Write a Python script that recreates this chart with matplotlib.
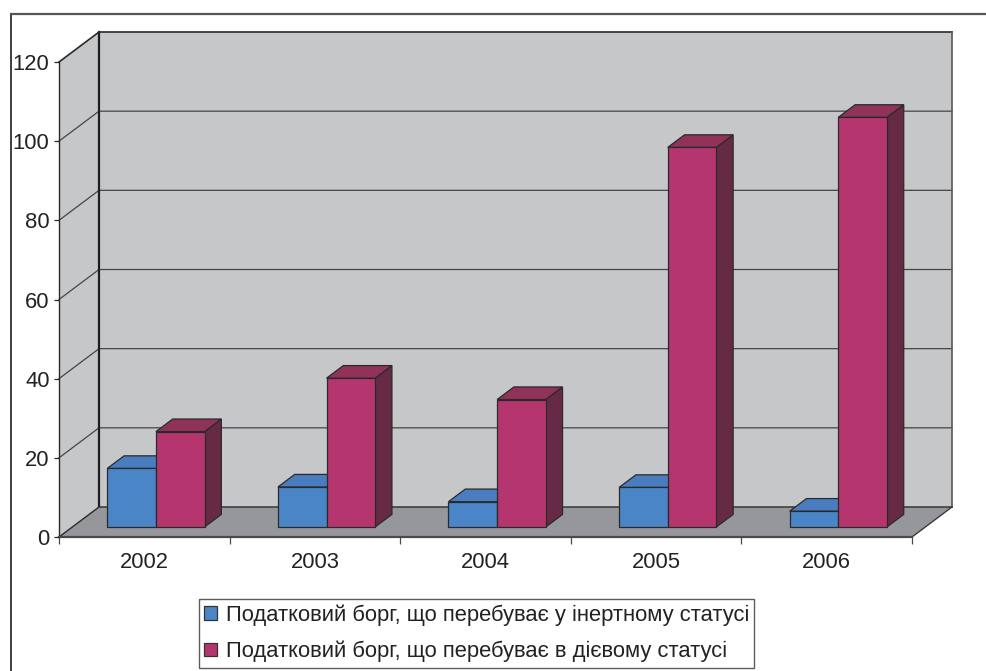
import matplotlib
matplotlib.use("Agg")
import matplotlib.pyplot as plt
from matplotlib.patches import Polygon, Patch
from matplotlib.lines import Line2D

years = ["2002", "2003", "2004", "2005", "2006"]
inert = [14.8, 10.1, 6.4, 10.0, 4.0]
active = [24.1, 37.6, 32.2, 95.9, 103.5]
series_names = [
    "Податковий борг, що перебуває у інертному статусі",
    "Податковий борг, що перебуває в дієвому статусі",
]
y_ticks = [0, 20, 40, 60, 80, 100, 120]

plt.rcParams['font.family'] = ['Liberation Sans', 'DejaVu Sans']
FS = 15.8

W, H = 987, 671
fig = plt.figure(figsize=(W / 100, H / 100), dpi=100)
fig.patch.set_facecolor("white")

# outer frame (left and top rules)
fig.add_artist(Line2D([11 / W, 11 / W], [0, 1 - 14 / H], color="#2e2e2e", lw=1.3,
                      transform=fig.transFigure))
fig.add_artist(Line2D([11 / W, 1], [1 - 14 / H, 1 - 14 / H], color="#555555", lw=1.6,
                      transform=fig.transFigure))

# front plane of the plot box, in pixels
left, right, bottom, top = 59, 912, 537, 62
ax = fig.add_axes([left / W, 1 - bottom / H, (right - left) / W, (bottom - top) / H])
n = len(years)
ymax = y_ticks[-1]
ax.set_xlim(0, n)
ax.set_ylim(0, ymax)
ax.patch.set_visible(False)

# oblique depth vector (40 px right, 30 px up) in data units
px_x = (right - left) / n
px_y = (bottom - top) / ymax
DX = 40 / px_x
DY = 30 / px_y

WALL = "#c6c7c9"
FLOOR = "#96979b"
GRID = "#454545"
EDGE = "#2a2a2a"


def at(x, y, d):
    return (x + d * DX, y + d * DY)


def poly(pts, fc, ec="none", lw=0.0, z=1):
    ax.add_patch(Polygon(pts, closed=True, facecolor=fc, edgecolor=ec, lw=lw,
                         zorder=z, clip_on=False, joinstyle="miter"))


# walls and floor
poly([at(0, 0, 1), at(n, 0, 1), at(n, ymax, 1), at(0, ymax, 1)], WALL, z=0)
poly([at(0, 0, 0), at(0, 0, 1), at(0, ymax, 1), at(0, ymax, 0)], WALL, z=0)
poly([at(0, 0, 0), at(n, 0, 0), at(n, 0, 1), at(0, 0, 1)], FLOOR, z=0.5)

# gridlines on back and side walls
for v in y_ticks[1:-1]:
    ax.plot(*zip(at(0, v, 0), at(0, v, 1), at(n, v, 1)), color=GRID, lw=0.9,
            zorder=0.4, clip_on=False)

# wall outlines
ax.plot(*zip(at(0, 0, 1), at(0, ymax, 1)), color="#1e1e1e", lw=1.6, zorder=0.45, clip_on=False)
ax.plot(*zip(at(0, ymax, 0), at(0, ymax, 1), at(n, ymax, 1)), color="#2a2a2a", lw=1.2,
        zorder=0.45, clip_on=False)
ax.plot(*zip(at(n, ymax, 1), at(n, 0, 1)), color="#5a5a5a", lw=1.2, zorder=0.45, clip_on=False)
ax.plot(*zip(at(0, 0, 0), at(0, 0, 1), at(n, 0, 1)), color="#2a2a2a", lw=1.0,
        zorder=0.6, clip_on=False)
ax.plot(*zip(at(n, 0, 0), at(n, 0, 1)), color="#3a3a3a", lw=1.0, zorder=0.6, clip_on=False)

# 3-D columns
d0, dd = 0.333, 0.42
bar_w = 0.285
x_start = 0.205
styles = [
    ("#4a86c7", "#4a7dbf", "#2f5a8e"),
    ("#b5366f", "#903259", "#662a45"),
]
for i in range(n):
    for s, vals in enumerate([inert, active]):
        v = vals[i]
        x0 = i + x_start + s * bar_w
        x1 = x0 + bar_w
        front, topc, side = styles[s]
        z = 2 + i * 0.1 + s * 0.01
        poly([at(x1, 0, d0), at(x1, 0, d0 + dd), at(x1, v, d0 + dd), at(x1, v, d0)],
             side, EDGE, 0.9, z)
        poly([at(x0, v, d0), at(x1, v, d0), at(x1, v, d0 + dd), at(x0, v, d0 + dd)],
             topc, EDGE, 0.9, z)
        poly([at(x0, 0, d0), at(x1, 0, d0), at(x1, v, d0), at(x0, v, d0)],
             front, EDGE, 0.9, z + 0.005)

# axes, ticks and labels
for sp in ("top", "right"):
    ax.spines[sp].set_visible(False)
ax.spines["left"].set_color("#2a2a2a")
ax.spines["left"].set_linewidth(1.0)
ax.spines["bottom"].set_color("#4a4a4a")
ax.spines["bottom"].set_linewidth(1.6)
ax.spines["left"].set_zorder(0.7)
ax.spines["bottom"].set_zorder(0.7)

ax.set_yticks(y_ticks)
ax.set_yticklabels([str(t) for t in y_ticks])
ax.tick_params(axis="y", direction="out", length=3.6, width=0.9, color="#2a2a2a",
               pad=3.2, labelsize=FS, labelcolor="#222222")

ax.set_xticks(range(n + 1))
ax.set_xticklabels([])
ax.set_xticks([i + 0.5 for i in range(n)], minor=True)
ax.set_xticklabels(years, minor=True)
ax.tick_params(axis="x", which="major", direction="out", length=5, width=0.9, color="#4a4a4a")
ax.tick_params(axis="x", which="minor", length=0, pad=10.5, labelsize=FS, labelcolor="#222222")

# legend
handles = [Patch(facecolor=styles[k][0], edgecolor="#333333", lw=0.9) for k in range(2)]
leg = fig.legend(handles, series_names, loc="upper left",
                 bbox_to_anchor=(199 / W, 1 - 599 / H), bbox_transform=fig.transFigure,
                 fontsize=FS, frameon=True, fancybox=False, handlelength=0.57,
                 handleheight=0.57, handletextpad=0.4, labelspacing=0.69,
                 borderpad=0.24, borderaxespad=0, labelcolor="#222222")
leg.get_frame().set_edgecolor("#333333")
leg.get_frame().set_linewidth(1.0)

fig.savefig("out.png", dpi=100)
